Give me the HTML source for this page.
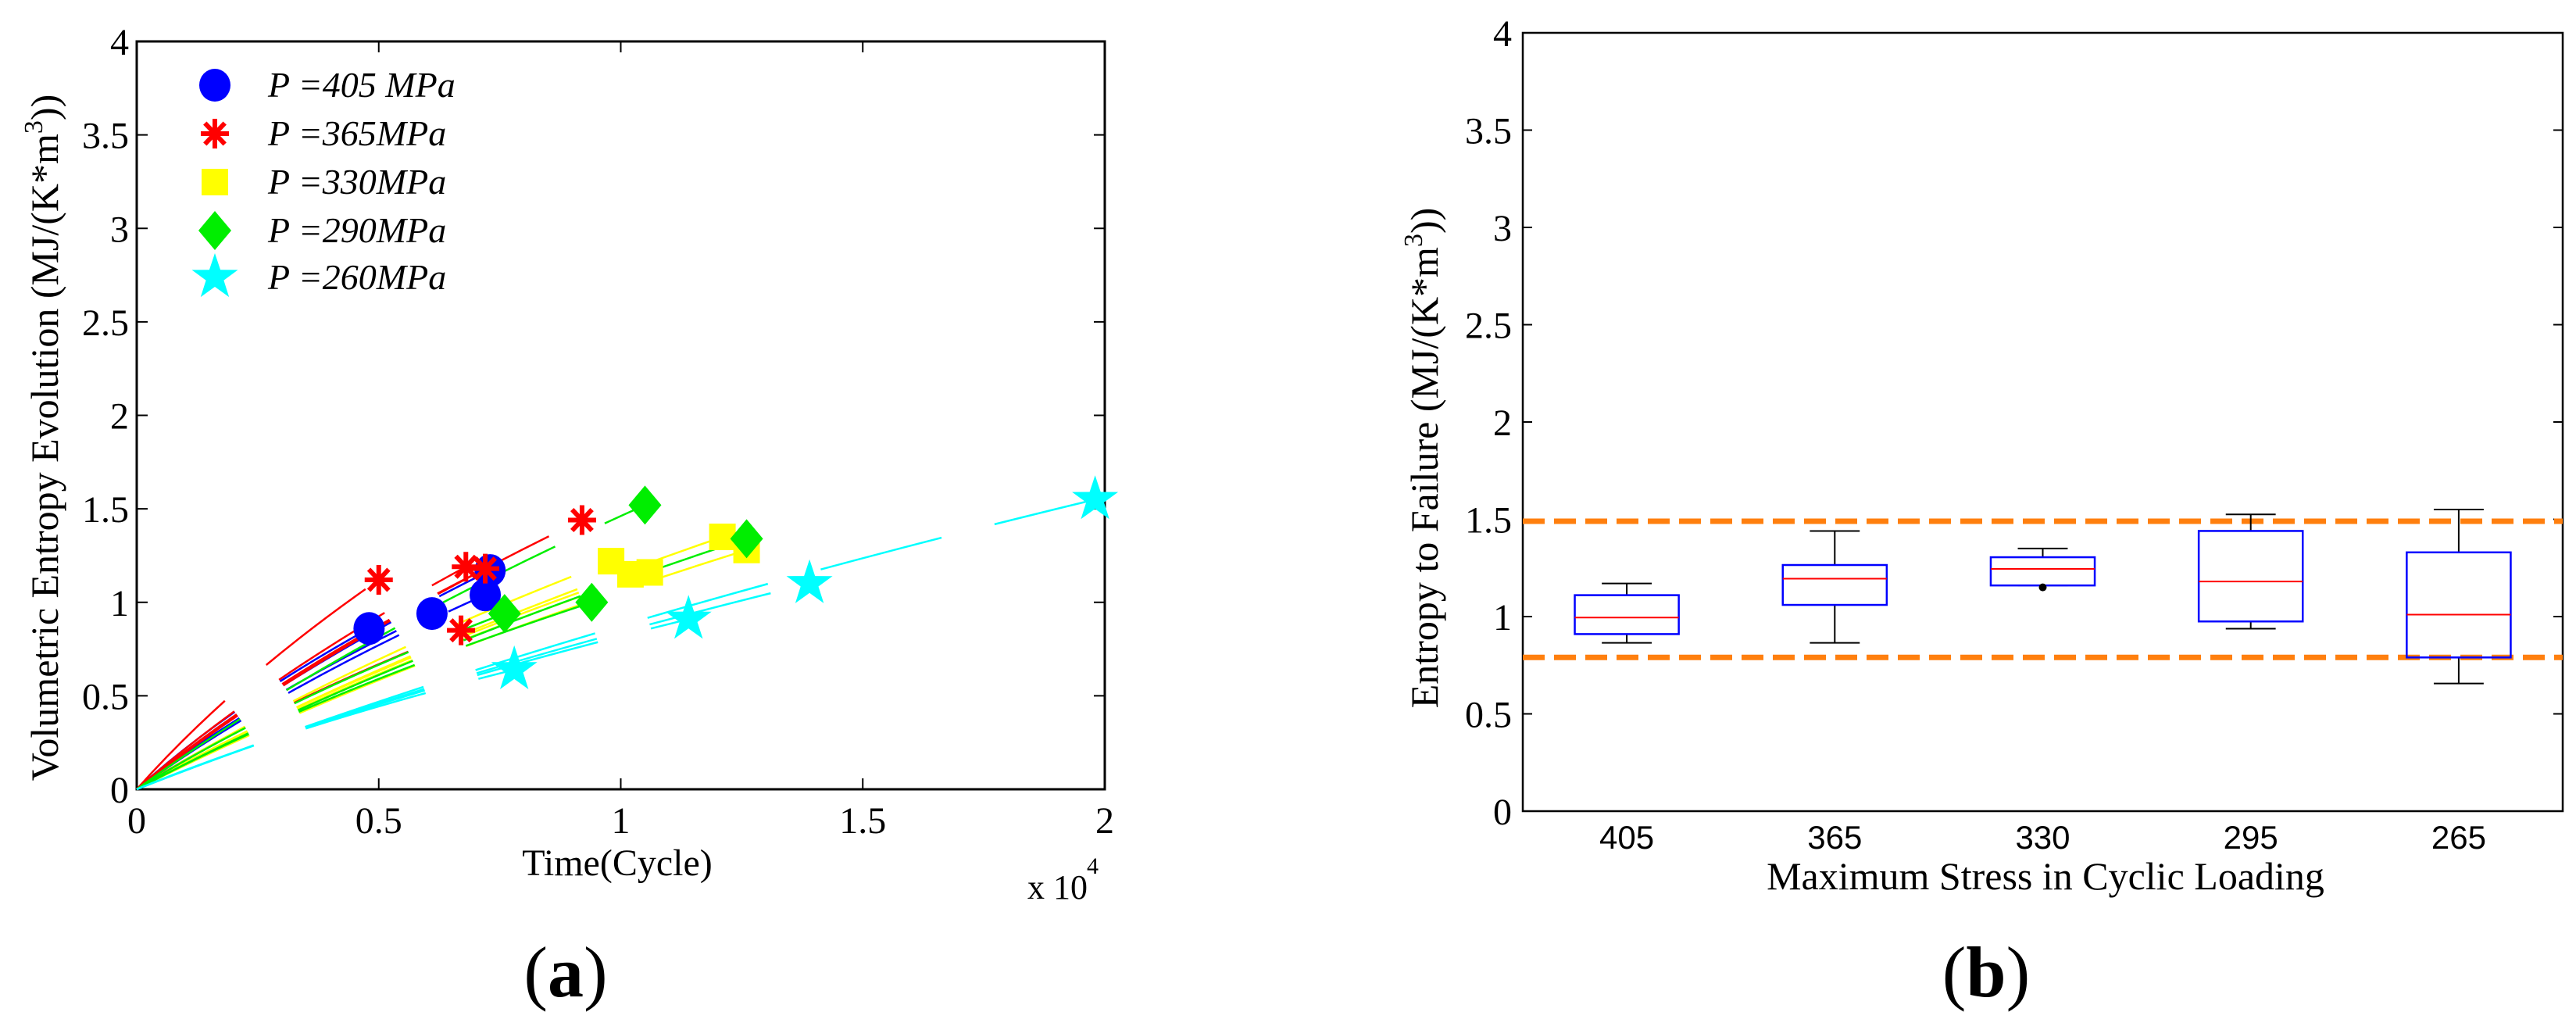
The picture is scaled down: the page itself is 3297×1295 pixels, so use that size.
<!DOCTYPE html>
<html><head><meta charset="utf-8"><style>
html,body{margin:0;padding:0;background:#fff;}
svg{display:block;}
.serif{font-family:"Liberation Serif",serif;}
.sans{font-family:"Liberation Sans",sans-serif;}
</style></head><body>
<svg id="fig" width="3297" height="1295" viewBox="0 0 3297 1295" xmlns="http://www.w3.org/2000/svg">
<g id="chartA"></g>
<g id="chartB"></g>
</svg>
<script>
// ---- Chart (a) data ----
const aSeriesNames = ["P=405 MPa","P=365MPa","P=330MPa","P=290MPa","P=260MPa"];
const aColors = ["#0000ff","#ff0000","#ffff00","#00ee00","#00ffff"];
const aMarkers = ["circle","asterisk","square","diamond","star"];
const aX405 = [0.48,0.61,0.72,0.73];
const aY405 = [0.86,0.94,1.04,1.17];
const aX365 = [0.50,0.68,0.72,0.67,0.92];
const aY365 = [1.12,1.19,1.18,0.85,1.44];
const aX330 = [0.98,1.02,1.06,1.21,1.26];
const aY330 = [1.22,1.15,1.16,1.35,1.28];
const aX290 = [0.76,0.94,1.05,1.26];
const aY290 = [0.94,1.00,1.52,1.34];
const aX260 = [0.78,1.14,1.39,1.98];
const aY260 = [0.64,0.91,1.10,1.55];
const aXTicks = [0,0.5,1,1.5,2];
const aXTickLabels = ["0","0.5","1","1.5","2"];
const aYTicks = [0,0.5,1,1.5,2,2.5,3,3.5,4];
const aYTickLabels = ["0","0.5","1","1.5","2","2.5","3","3.5","4"];

// ---- Chart (b) data ----
const bCategories = ["405","365","330","295","265"];
const bWhiskerHigh = [1.17,1.44,1.35,1.525,1.55];
const bQ3 = [1.11,1.265,1.305,1.44,1.33];
const bMedian = [0.995,1.195,1.245,1.18,1.01];
const bQ1 = [0.91,1.06,1.16,0.975,0.79];
const bWhiskerLow = [0.865,0.865,1.16,0.938,0.656];
const bOutliers = [[],[],[1.15],[],[]];
const bRefLines = [1.49,0.79];
const bYTicks = [0,0.5,1,1.5,2,2.5,3,3.5,4];
const bYTickLabels = ["0","0.5","1","1.5","2","2.5","3","3.5","4"];

const NS="http://www.w3.org/2000/svg";
function mk(parent,tag,attrs,text){const e=document.createElementNS(NS,tag);for(const k in attrs)e.setAttribute(k,attrs[k]);if(text!==undefined)e.textContent=text;parent.appendChild(e);return e;}

// ===== Chart A =====
const A=document.getElementById('chartA');
const aL=175,aR=1414,aT=53,aB=1010;
const ax=v=>aL+(v-0)/(2-0)*(aR-aL);
const ay=v=>aB-(v-0)/(4-0)*(aB-aT);

let fr=mk(A,'rect',{x:aL,y:aT,width:aR-aL,height:aB-aT,fill:'none',stroke:'#000','stroke-width':3});


aXTicks.forEach((t,i)=>{
  mk(A,'line',{x1:ax(t),x2:ax(t),y1:aB,y2:aB-14,stroke:'#000','stroke-width':2});
  mk(A,'line',{x1:ax(t),x2:ax(t),y1:aT,y2:aT+14,stroke:'#000','stroke-width':2});
  const tx=mk(A,'text',{x:ax(t),y:1066,'text-anchor':'middle','font-size':48,class:'serif'},aXTickLabels[i]);
  
  
});
aYTicks.forEach((t,i)=>{
  mk(A,'line',{x1:aL,x2:aL+14,y1:ay(t),y2:ay(t),stroke:'#000','stroke-width':2});
  mk(A,'line',{x1:aR,x2:aR-14,y1:ay(t),y2:ay(t),stroke:'#000','stroke-width':2});
  const tx=mk(A,'text',{x:aL-10,y:ay(t)+17,'text-anchor':'end','font-size':48,class:'serif'},aYTickLabels[i]);
  
  
});
let xt=mk(A,'text',{x:790,y:1120,'text-anchor':'middle','font-size':48,class:'serif'},'Time(Cycle)');


let xm=mk(A,'text',{x:1315,y:1150,'font-size':44,class:'serif'},'x 10');


mk(A,'text',{x:1391,y:1118,'font-size':30,class:'serif'},'4');
let yt=mk(A,'text',{x:0,y:0,'text-anchor':'middle','font-size':50,class:'serif',transform:'translate(74,560) rotate(-90)'});
yt.innerHTML='Volumetric Entropy Evolution (MJ/(K*m<tspan dy="-20" font-size="34">3</tspan><tspan dy="20">))</tspan>';


let pa=mk(A,'text',{x:724,y:1275,'text-anchor':'middle','font-size':92,class:'serif'});
pa.innerHTML='(<tspan font-weight="bold">a</tspan>)';



function marker(g,type,cx,cy,color,s){
  s=s||1;
  if(type==='circle') return mk(g,'ellipse',{cx,cy,rx:20*s,ry:21*s,fill:color});
  if(type==='square') return mk(g,'rect',{x:cx-17*s,y:cy-17*s,width:34*s,height:34*s,fill:color});
  if(type==='diamond') return mk(g,'polygon',{points:`${cx},${cy-25*s} ${cx+21*s},${cy} ${cx},${cy+25*s} ${cx-21*s},${cy}`,fill:color});
  if(type==='star'){let p=[];for(let k=0;k<10;k++){const r=k%2?12*s:31*s;const an=-Math.PI/2+k*Math.PI/5;p.push((cx+r*Math.cos(an)).toFixed(1)+','+(cy+r*Math.sin(an)).toFixed(1));}return mk(g,'polygon',{points:p.join(' '),fill:color});}
  if(type==='asterisk'){const gg=mk(g,'g',{stroke:color,'stroke-width':6});for(let k=0;k<4;k++){const an=k*Math.PI/4;mk(gg,'line',{x1:cx-18*s*Math.cos(an),y1:cy-19*s*Math.sin(an),x2:cx+18*s*Math.cos(an),y2:cy+19*s*Math.sin(an)});}return gg;}
}
const aXs=[aX405,aX365,aX330,aX290,aX260];
const aYs=[aY405,aY365,aY330,aY290,aY260];
const curves=mk(A,'g',{});


aXs.forEach((xs,si)=>{
  xs.forEach((xv,j)=>{
    const yv=aYs[si][j];
    const x0=ax(0),y0=ay(0),x1=ax(xv),y1=ay(yv);
    const cxp=x0+(x1-x0)*0.4, cyp=y0+(y1-y0)*0.52;
    const p=mk(curves,'path',{d:`M${x0},${y0} Q${cxp},${cyp} ${x1},${y1}`,fill:'none',stroke:aColors[si],'stroke-width':2.5,'stroke-dasharray':'160 70'});
    
    
  });
});
aXs.forEach((xs,si)=>{
  xs.forEach((xv,j)=>{
    const m=marker(A,aMarkers[si],ax(xv),ay(aYs[si][j]),aColors[si]);
    
    
  });
});
const legY=[109,171,233,295,355];
aSeriesNames.forEach((n,i)=>{
  const g=mk(A,'g',{});
  
  
  marker(g,aMarkers[i],275,legY[i],aColors[i]);
  const m=n.match(/^P=(.*)$/);
  mk(g,'text',{x:343,y:legY[i]+15,'font-size':46,'font-style':'italic',class:'serif'},'P =' + m[1]);
});

// ===== Chart B =====
const B=document.getElementById('chartB');
const bL=1949,bR=3280,bT=42,bB=1038;
const bx=i=>bL+(i+0.5)/bCategories.length*(bR-bL);
const by=v=>bB-v/4*(bB-bT);
const bw=(bR-bL)/bCategories.length;
let fb=mk(B,'rect',{x:bL,y:bT,width:bR-bL,height:bB-bT,fill:'none',stroke:'#000','stroke-width':2.5});


bYTicks.forEach((t,i)=>{
  mk(B,'line',{x1:bL,x2:bL+12,y1:by(t),y2:by(t),stroke:'#000','stroke-width':2});
  mk(B,'line',{x1:bR,x2:bR-12,y1:by(t),y2:by(t),stroke:'#000','stroke-width':2});
  const tx=mk(B,'text',{x:bL-14,y:by(t)+17,'text-anchor':'end','font-size':48,class:'serif'},bYTickLabels[i]);
  
  
});
bCategories.forEach((c,i)=>{
  const tx=mk(B,'text',{x:bx(i),y:1086,'text-anchor':'middle','font-size':42,class:'sans'},c);
  
  
});
bRefLines.forEach(v=>{
  const l=mk(B,'line',{x1:bL,x2:bR,y1:by(v),y2:by(v),stroke:'#ff7f0e','stroke-width':7,'stroke-dasharray':'28 12'});
  
  
});
bCategories.forEach((c,i)=>{
  const g=mk(B,'g',{});
  
  
  const cx=bx(i),hw=bw*0.25,cw=bw*0.12;
  mk(g,'line',{x1:cx,x2:cx,y1:by(bWhiskerHigh[i]),y2:by(bQ3[i]),stroke:'#000','stroke-width':2});
  mk(g,'line',{x1:cx,x2:cx,y1:by(bQ1[i]),y2:by(bWhiskerLow[i]),stroke:'#000','stroke-width':2});
  mk(g,'line',{x1:cx-cw,x2:cx+cw,y1:by(bWhiskerHigh[i]),y2:by(bWhiskerHigh[i]),stroke:'#000','stroke-width':2});
  mk(g,'line',{x1:cx-cw,x2:cx+cw,y1:by(bWhiskerLow[i]),y2:by(bWhiskerLow[i]),stroke:'#000','stroke-width':2});
  mk(g,'rect',{x:cx-hw,y:by(bQ3[i]),width:2*hw,height:by(bQ1[i])-by(bQ3[i]),fill:'none',stroke:'#0000ff','stroke-width':2.5});
  mk(g,'line',{x1:cx-hw,x2:cx+hw,y1:by(bMedian[i]),y2:by(bMedian[i]),stroke:'#ff0000','stroke-width':2});
  bOutliers[i].forEach(o=>mk(g,'circle',{cx,cy:by(o),r:5,fill:'#000'}));
});
let xtb=mk(B,'text',{x:2618,y:1138,'text-anchor':'middle','font-size':50,class:'serif'},'Maximum Stress in Cyclic Loading');


let ytb=mk(B,'text',{x:0,y:0,'text-anchor':'middle','font-size':50,class:'serif',transform:'translate(1840,586) rotate(-90)'});
ytb.innerHTML='Entropy to Failure (MJ/(K*m<tspan dy="-20" font-size="34">3</tspan><tspan dy="20">))</tspan>';


let pb=mk(B,'text',{x:2542,y:1275,'text-anchor':'middle','font-size':92,class:'serif'});
pb.innerHTML='(<tspan font-weight="bold">b</tspan>)';


</script>
</body></html>
